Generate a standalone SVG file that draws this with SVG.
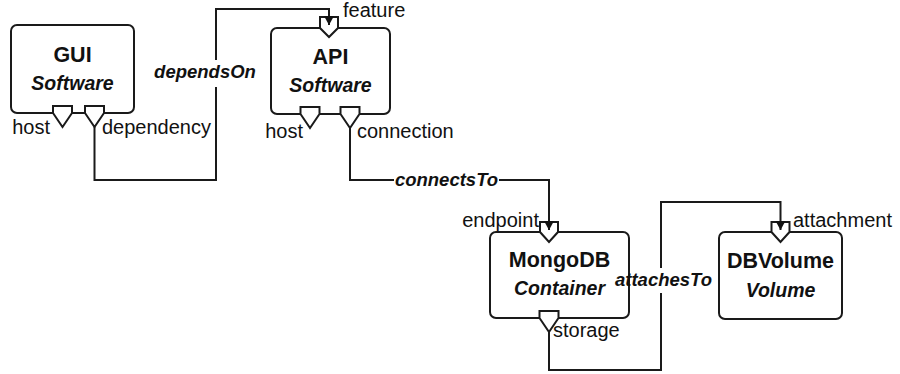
<svg xmlns="http://www.w3.org/2000/svg" width="900" height="374" viewBox="0 0 900 374">
  <style>
    .box { fill: #ffffff; stroke: #1a1a1a; stroke-width: 2; }
    .port { fill: #ffffff; stroke: #1a1a1a; stroke-width: 2; stroke-linejoin: miter; }
    .title { font-family: "Liberation Sans", Arial, sans-serif; font-size: 21.5px; font-weight: bold; fill: #111; text-anchor: middle; }
    .type { font-family: "Liberation Sans", Arial, sans-serif; font-size: 19.5px; font-weight: bold; font-style: italic; fill: #111; text-anchor: middle; }
    .plabel { font-family: "Liberation Sans", Arial, sans-serif; font-size: 20px; fill: #111; }
    .elabel { font-family: "Liberation Sans", Arial, sans-serif; font-size: 18.5px; font-weight: bold; font-style: italic; fill: #111; text-anchor: middle; }
    .edge { fill: none; stroke: #1a1a1a; stroke-width: 2; }
  </style>
  <defs>
    <marker id="arrow" markerUnits="userSpaceOnUse" markerWidth="12" markerHeight="12" refX="9" refY="6" orient="auto">
      <path d="M0,1 L9,6 L0,11 z" fill="#111"/>
    </marker>
  </defs>
  <rect width="900" height="374" fill="#ffffff"/>

  <g id="GUI">
    <rect class="box" x="11" y="25" width="123" height="88" rx="6"/>
    <text class="title" x="72.5" y="62">GUI</text>
    <text class="type" x="72.5" y="90">Software</text>
    <polygon class="port" points="53,106 72,106 72,113 62.5,127 53,113"/>
    <polygon class="port" points="85,106 104,106 104,113 94.5,127 85,113"/>
    <text class="plabel" x="50" y="134" text-anchor="end">host</text>
    <text class="plabel" x="102" y="134">dependency</text>
  </g>

  <g id="API">
    <rect class="box" x="271" y="28" width="119" height="86" rx="6"/>
    <text class="title" x="330.5" y="64">API</text>
    <text class="type" x="330.5" y="92">Software</text>
    <polygon class="port" points="320,17 338,17 338,28 329,37 320,28"/>
    <polygon class="port" points="300.5,107 319.5,107 319.5,114 310,128 300.5,114"/>
    <polygon class="port" points="340.5,107 359.5,107 359.5,114 350,128 340.5,114"/>
    <text class="plabel" x="343" y="17">feature</text>
    <text class="plabel" x="303" y="138" text-anchor="end">host</text>
    <text class="plabel" x="357" y="138">connection</text>
  </g>

  <g id="MongoDB">
    <rect class="box" x="490" y="232" width="139" height="86" rx="6"/>
    <text class="title" x="559.5" y="267">MongoDB</text>
    <text class="type" x="559.5" y="295">Container</text>
    <polygon class="port" points="540,222 558,222 558,232 549,242 540,232"/>
    <polygon class="port" points="539.5,311 558.5,311 558.5,318 549,332 539.5,318"/>
    <text class="plabel" x="539" y="227" text-anchor="end">endpoint</text>
    <text class="plabel" x="553" y="337">storage</text>
  </g>

  <g id="DBVolume">
    <rect class="box" x="719" y="232" width="123" height="87" rx="6"/>
    <text class="title" x="780.5" y="268">DBVolume</text>
    <text class="type" x="780.5" y="297">Volume</text>
    <polygon class="port" points="771.5,222 789.5,222 789.5,232 780.5,242 771.5,232"/>
    <text class="plabel" x="793" y="227">attachment</text>
  </g>

  <g id="connectors">
    <path class="edge" d="M94.5,127 V180 H216 V87"/>
    <path class="edge" d="M216,60 V9 H329 V25" marker-end="url(#arrow)"/>
    <text class="elabel" x="205" y="78">dependsOn</text>

    <path class="edge" d="M350,128 V180 H394"/>
    <path class="edge" d="M499,180 H549 V230" marker-end="url(#arrow)"/>
    <text class="elabel" x="446.5" y="186">connectsTo</text>

    <path class="edge" d="M549,332 V370 H661 V293"/>
    <path class="edge" d="M661,268 V202 H780.5 V230" marker-end="url(#arrow)"/>
    <text class="elabel" x="663.5" y="286">attachesTo</text>
  </g>
</svg>
